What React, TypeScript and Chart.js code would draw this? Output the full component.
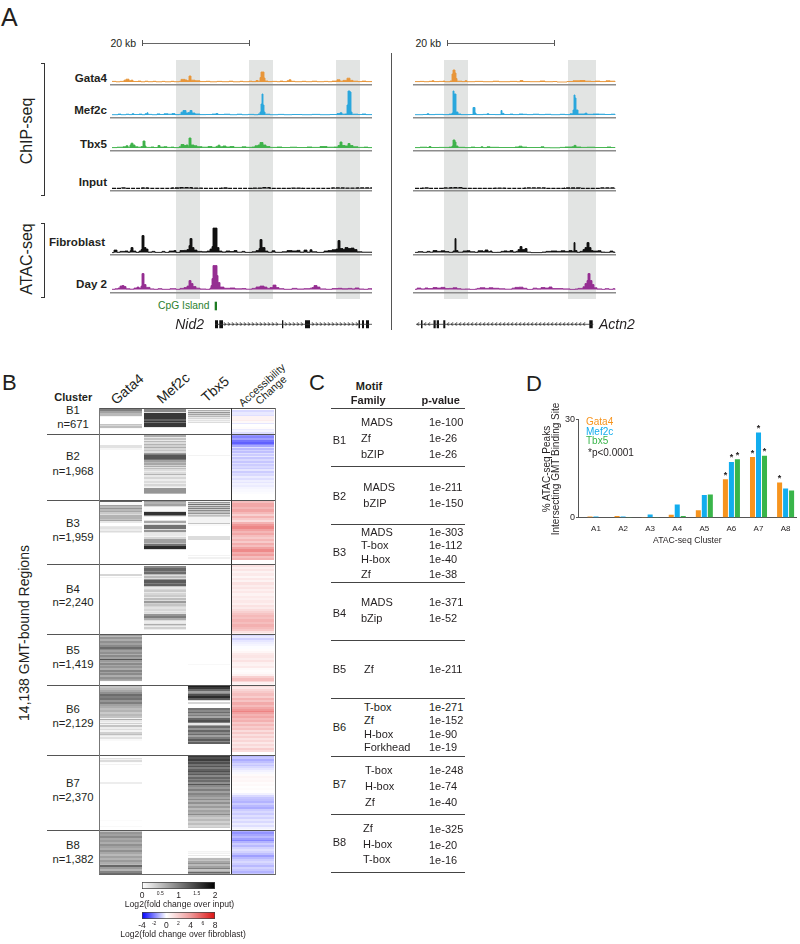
import React, { useEffect, useRef } from "react";
import Chart from "chart.js/auto";

// ---------- Panel D data ----------
const atacClusters = ["A1", "A2", "A3", "A4", "A5", "A6", "A7", "A8"];
const pctGata4 = [0.4, 0.5, 0.25, 0.9, 2.3, 11.7, 18.5, 10.7];
const pctMef2c = [0.4, 0.4, 1.0, 4.0, 6.9, 17, 26, 8.9];
const pctTbx5 = [0.1, 0.2, 0.2, 0.5, 7.1, 17.8, 18.9, 8.3];
const sigGata4 = [0, 0, 0, 0, 0, 1, 1, 1];
const sigMef2c = [0, 0, 0, 0, 0, 1, 1, 0];
const sigTbx5 = [0, 0, 0, 0, 0, 1, 1, 0];

// ---------- Panel C data ----------
const motifClusters = ["B1", "B2", "B3", "B4", "B5", "B6", "B7", "B8"];
const motifFamilies = [
  ["MADS", "Zf", "bZIP"], ["MADS", "bZIP"], ["MADS", "T-box", "H-box", "Zf"], ["MADS", "bZip"],
  ["Zf"], ["T-box", "Zf", "H-box", "Forkhead"], ["T-box", "H-box", "Zf"], ["Zf", "H-box", "T-box"],
];
const motifPvalues = [
  ["1e-100", "1e-26", "1e-26"], ["1e-211", "1e-150"], ["1e-303", "1e-112", "1e-40", "1e-38"], ["1e-371", "1e-52"],
  ["1e-211"], ["1e-271", "1e-152", "1e-90", "1e-19"], ["1e-248", "1e-74", "1e-40"], ["1e-325", "1e-20", "1e-16"],
];

// ---------- Panel B data: [value, rows] runs, one list per cluster ----------
const clusterNames = ["B1", "B2", "B3", "B4", "B5", "B6", "B7", "B8"];
const clusterCounts = ["n=671", "n=1,968", "n=1,959", "n=2,240", "n=1,419", "n=2,129", "n=2,370", "n=1,382"];
const clusterRows = [26, 66, 64, 70, 51, 70, 75, 44];
const heatColumns = ["Gata4", "Mef2c", "Tbx5", "Accessibility Change"];

const gata4Runs = [
  [[.05,1],[1.1,2],[.8,2],[.6,3],[.1,1],[0,7],[.5,1],[.35,1],[.55,2],[.05,1]],
  [[0,11],[.25,3],[.08,2]],
  [[0,1],[1.35,1],[.05,3],[.8,1],[.6,2],[.9,1],[.6,2],[.75,1],[.45,2],[.3,1],[.65,4],[.5,1],[.75,1],[.2,2],[0,3],[.2,1],[.25,2],[.15,2],[.3,1],[.15,1]],
  [[0,10],[.35,2],[0,1],[.1,1]],
  [[.8,2],[.6,1],[.9,2],[.7,2],[.95,2],[.8,2],[1.0,2],[1.25,2],[1.0,1],[.8,2],[.95,2],[.7,1],[1.0,2],[.8,2],[1.45,1],[.85,2],[.7,1],[1.0,2],[.75,1],[.9,2],[.7,2],[1.05,2],[.8,1],[1.0,2],[.7,2],[.95,2],[.8,1],[.7,1],[.05,1]],
  [[0,1],[.5,2],[.6,2],[.75,2],[.95,2],[1.25,2],[1.1,2],[1.2,2],[.9,2],[1.1,2],[.8,2],[.7,2],[.55,2],[.65,2],[.45,2],[.6,2],[.5,2],[.1,1],[.7,1],[.2,2],[.1,1],[.4,1],[.1,1],[.5,2],[.15,2],[.3,1],[.1,2],[.4,2],[.55,1],[.2,1],[.1,1],[.25,2],[.05,2]],
  [[0,3],[.25,1],[.1,1],[.3,2],[.03,1],[0,1],[.1,1],[0,17],[.15,2],[0,36],[.03,1],[0,5],[.05,1]],
  [[.5,2],[.9,2],[.8,2],[1.0,2],[.75,2],[.85,2],[.7,2],[.95,2],[.8,2],[.7,2],[.95,2],[.75,2],[.6,2],[.8,2],[.65,2],[.85,2],[.7,2],[.6,1],[1.3,2],[.85,2],[.65,2],[1.05,2],[1.25,3]],
];
const mef2cRuns = [
  [[0,1],[1.0,3],[.3,1],[1.7,6],[1.35,2],[1.7,1],[1.2,1],[1.7,4],[.2,1]],
  [[0,1],[.7,2],[.2,1],[.5,2],[.2,1],[.6,1],[.3,2],[.65,1],[.4,2],[.7,1],[.35,2],[.5,1],[.3,2],[.85,1],[1.1,1],[1.45,4],[1.2,1],[.8,2],[.6,1],[.75,2],[.4,1],[.7,1],[.25,1],[.55,1],[.3,2],[.15,1],[.3,2],[.65,1],[.2,2],[.35,2],[.15,2],[.3,2],[.15,1],[.35,2],[.2,1],[.1,1],[.9,5],[.6,1]],
  [[.9,2],[.65,2],[.8,2],[.3,1],[.05,4],[.3,1],[1.75,3],[1.0,1],[.2,1],[0,3],[.25,1],[.75,2],[.15,1],[.3,1],[1.2,4],[.3,1],[.9,2],[.25,1],[.2,3],[.1,1],[.35,2],[.8,4],[.55,1],[1.2,2],[1.8,3],[.3,1]],
  [[0,2],[1.0,2],[1.3,3],[1.0,1],[1.25,2],[.6,1],[.3,1],[.6,2],[.3,1],[.9,1],[1.4,3],[1.1,1],[1.35,2],[.5,1],[.2,2],[.35,1],[.45,2],[.2,1],[.35,2],[.45,2],[.2,1],[.55,2],[.3,1],[.85,2],[.4,1],[.5,2],[.35,1],[.25,2],[.35,2],[.2,1],[.3,1],[.25,1],[.9,2],[1.1,2],[.7,2],[.3,1],[.15,2],[.2,1],[.7,1],[.35,1],[.15,1],[.4,2],[.15,1]],
  [],
  [],
  [],
  [],
];
const tbx5Runs = [
  [[0,2],[.7,1],[.3,1],[.9,1],[.4,1],[.8,1],[.35,1],[.6,1],[.2,1],[.35,1],[.1,1],[.25,1],[.1,1],[.3,1]],
  [[0,21],[.1,1]],
  [[.1,2],[.9,1],[.4,1],[1.2,1],[.35,1],[1.0,1],[.5,1],[1.1,1],[.4,1],[1,1],[.55,2],[.9,1],[.3,1],[.55,1],[.4,1],[.1,6],[.5,1],[.05,2],[0,10],[.3,4],[0,15],[.1,1],[0,1],[.12,2]],
  [],
  [[0,30],[.06,1]],
  [[1.9,2],[1.7,2],[1.3,2],[.8,2],[1.0,1],[1.5,2],[1.8,2],[1.4,2],[.3,1],[0,1],[.35,2],[0,4],[1.2,2],[1.0,2],[1.25,1],[.9,2],[1.1,1],[.75,2],[1.3,2],[1.5,2],[1.1,1],[.2,2],[.8,1],[1.25,2],[.9,2],[1.3,2],[1.0,2],[1.25,1],[.8,2],[1.1,2],[1.4,2],[1,1],[1.35,2]],
  [[1.7,2],[1.5,2],[1.65,2],[1.3,1],[1.5,2],[1.2,2],[1.45,1],[1.1,2],[1.35,2],[1.5,1],[1.2,2],[1.4,1],[1.0,2],[1.3,2],[1.05,1],[1.25,2],[.95,2],[1.45,1],[1.0,2],[.85,2],[1.1,2],[.8,2],[1.05,2],[.9,2],[.75,2],[1.0,1],[.7,2],[.95,2],[.65,2],[.85,2],[.6,2],[.8,2],[.7,2],[1,1],[.6,2],[.45,2],[.6,2],[.4,2],[.55,2],[.35,2],[.45,1]],
  [[0,21],[.1,1],[.05,1],[.12,1],[0,1],[.2,1],[0,1],[.05,1],[.6,2],[.5,1],[.75,2],[.95,1],[.6,2],[.8,2],[1.1,1],[.5,2],[.7,1],[1.3,1],[.9,1]],
];
const accessRuns = [
  [[0,2],[-.6,2],[-.35,3],[-.5,1],[.4,4],[.6,1],[.2,2],[-.4,1],[0,3],[.1,2],[-.3,1],[-.15,2],[-.5,2]],
  [[-1.6,2],[-1.9,2],[-1.5,2],[-2.2,2],[-2.5,2],[-1.9,1],[-1.4,2],[-.5,1],[-1.1,2],[-.7,1],[-1.0,2],[-.5,1],[-.8,2],[-.4,1],[-.9,2],[-.6,2],[-.9,2],[-.5,1],[-.8,2],[-.6,2],[-.8,1],[-.4,2],[-.8,2],[-.5,1],[-.6,2],[-.3,2],[-.5,2],[-.25,2],[-.4,1],[-.2,2],[-.3,2],[-.15,2],[-.1,3],[-.05,2]],
  [[2.2,3],[3,4],[2.5,2],[3.1,3],[2.4,2],[1.6,2],[2.6,2],[1.8,2],[1.2,2],[2.6,2],[3.5,2],[4.1,3],[3.2,2],[2.5,2],[3,2],[2.2,2],[1.8,2],[2.5,2],[1.8,2],[2.8,2],[2.2,2],[3.2,2],[4,3],[2.8,2],[3.3,2],[2.2,2],[2.7,2]],
  [[1,3],[.5,2],[.9,2],[.4,2],[.7,3],[.3,2],[.8,2],[.4,2],[1,3],[.6,2],[.9,2],[.5,2],[.8,2],[.4,3],[.7,2],[.5,2],[.8,3],[.5,2],[1,2],[.7,2],[1.2,2],[1.6,2],[2,2],[2.4,2],[2.1,2],[2.6,3],[2.2,2],[2.7,3],[2.3,2],[1.9,2],[1,2],[.5,2]],
  [[-.6,2],[-.35,2],[-.7,2],[-.4,2],[-.25,2],[-.15,2],[-.05,3],[.1,2],[.3,2],[.7,2],[.9,3],[.6,2],[1,2],[.5,2],[.4,2],[.7,2],[.2,2],[.1,2],[.2,2],[.5,2],[1.6,2],[2.2,3],[1.4,1],[.5,2],[.3,1]],
  [[1.2,2],[.8,2],[1.4,2],[1.8,2],[2.2,3],[1.7,2],[2.6,2],[2,2],[2.9,3],[2.3,2],[3,2],[3.5,2],[4.2,1],[3.2,2],[2.6,2],[3,2],[2.3,2],[2.7,2],[1.8,2],[2.4,2],[1.7,2],[2.1,2],[1.2,2],[1.8,2],[1.1,2],[1.6,2],[1,2],[1.4,2],[.8,2],[1.3,2],[.9,2],[1.7,2],[1.2,2]],
  [[-1.1,2],[-.9,2],[-1.3,2],[-1,2],[-.7,2],[-.9,1],[-.6,2],[-.4,2],[-.2,2],[-.1,2],[.15,2],[.35,2],[.2,2],[.3,2],[.1,2],[.2,2],[.05,2],[.15,2],[.05,3],[-.2,2],[-.6,2],[-.9,2],[-1,2],[-1.2,2],[-.8,2],[-1.1,2],[-1.3,2],[-.8,2],[-.6,2],[-.8,2],[-.5,2],[-.7,2],[-.4,2],[-.6,2],[-.3,2],[-.5,2],[-.2,2],[-.1,2]],
  [[-1.3,2],[-1.7,2],[-1.4,2],[-1.1,2],[-1.5,2],[-1.9,1],[-1.2,2],[-.8,2],[-1.1,2],[-.7,2],[-.5,2],[-.7,2],[-1,2],[-1.5,2],[-1.1,2],[-.8,2],[-.6,2],[-.8,2],[-1.1,2],[-.7,2],[-.9,2],[-1.2,2],[-.9,1]],
];

// ---------- Panel A data: [genomic bin, signal] steps ----------
const nid2Gata4 = [[0,.6],[4,.2],[8,.6],[12,1.8],[14,2.8],[17,1.2],[19,1.8],[21,.5],[26,.9],[29,.2],[33,.8],[36,.3],[41,.7],[44,.2],[50,.6],[53,.2],[59,.7],[62,.3],[67,.6],[69,2.6],[73,2],[75,1.3],[77,6],[79,1.8],[83,1.2],[88,.4],[94,.7],[98,.2],[105,.6],[110,.3],[117,.8],[121,.2],[128,.7],[131,.3],[137,.8],[140,.4],[144,1.5],[146,.8],[148,4.5],[149,10],[152,4],[153,1],[156,.4],[160,.6],[165,.3],[168,.9],[171,.4],[175,1.2],[177,2.2],[179,.7],[183,.3],[190,.7],[194,.3],[200,.8],[205,.3],[212,.6],[216,.3],[220,.9],[225,2.2],[228,.8],[231,1.6],[235,3.8],[238,1.6],[241,.8],[246,.4],[250,.9],[254,.4],[260,0]];
const nid2Mef2c = [[0,.3],[6,.9],[9,.3],[14,.8],[17,.4],[20,1.2],[22,.5],[27,.9],[30,.3],[33,1.2],[35,2.2],[36,.6],[40,.3],[45,1.1],[48,.5],[52,1.2],[56,.8],[60,1.4],[63,.4],[67,.6],[69,2.8],[71,4.5],[74,2],[76,2.4],[78,4.5],[80,2],[83,1],[88,.4],[94,.5],[100,.9],[104,1.4],[106,.5],[112,.8],[118,.3],[125,.8],[130,.3],[136,.6],[142,.3],[146,1],[148,3],[149,11],[150,21],[151,10],[152,3],[153,.8],[158,.3],[166,.6],[172,.3],[180,.5],[190,.3],[200,.6],[208,.3],[218,.5],[225,1.4],[228,2.2],[230,.8],[233,1],[235,10],[236,24],[238,23],[239,3],[240,.8],[246,.5],[250,1],[254,.4],[260,0]];
const nid2Tbx5 = [[0,.4],[5,.8],[11,1.2],[14,2.2],[16,.8],[18,3],[19,4.8],[21,3],[23,1.2],[26,.8],[29,1.4],[31,7],[33,2],[34,.6],[39,1],[42,.5],[46,2.5],[48,.9],[52,1.3],[55,.6],[59,.9],[62,.4],[67,1.2],[69,3.5],[72,2.5],[74,3],[76,1.8],[77,10],[79,3],[82,2.2],[85,1.3],[90,.8],[96,1.5],[100,.7],[104,1.6],[106,2.8],[108,1.2],[111,2],[114,1],[118,1.5],[122,.6],[130,1.2],[134,.7],[140,1],[143,2.2],[146,3],[148,5.5],[151,3],[154,1.5],[158,.6],[165,1],[170,.5],[178,.8],[185,.5],[195,1],[200,.6],[208,1.5],[215,.8],[222,1],[226,2.5],[228,6],[230,2.5],[233,2],[236,4.5],[238,2.5],[241,1.2],[246,.6],[252,.9],[256,.4],[260,0]];
const nid2Input = [[0,.3],[10,.7],[14,.2],[30,.6],[36,.2],[60,.6],[68,.9],[80,.5],[90,.2],[110,.6],[116,.2],[140,.5],[150,.9],[158,.3],[180,.5],[190,.2],[220,.7],[232,.4],[245,.7],[260,0]];
const nid2Fibroblast = [[0,0],[2,2.5],[5,.3],[8,1.2],[13,1.6],[16,.3],[18,1.8],[19,5],[21,1.5],[24,.2],[27,1.5],[29,3],[30,17],[32,5],[34,3.5],[36,.5],[40,1.2],[43,.2],[50,1.2],[53,.2],[57,1.5],[62,2],[64,.2],[68,2],[72,2.2],[75,3],[77,7],[78,14],[80,5],[82,2.5],[85,1.2],[90,.8],[95,1.5],[98,3.5],[100,6],[101,24.5],[105,5],[107,1.5],[110,.6],[114,1.6],[118,1],[122,2],[125,.4],[130,1.2],[133,.2],[140,.8],[144,2],[147,4],[148,13],[150,5],[153,1.5],[156,.3],[160,1.8],[163,.3],[170,.8],[175,2],[180,1.6],[185,2.2],[188,.5],[192,2.5],[195,.5],[198,2.8],[200,.8],[205,.2],[212,1.5],[216,2],[220,2.8],[224,3.5],[226,12],[228,4],[231,3],[233,5],[236,4],[239,4.5],[242,3],[245,.8],[250,.4],[260,0]];
const nid2Day2 = [[0,.3],[3,.8],[6,1.5],[8,3.5],[10,4],[12,3],[14,.8],[18,.4],[22,1.5],[25,2.5],[27,1.5],[29,3.5],[30,16],[32,5],[34,2.2],[38,.7],[42,.3],[46,.9],[50,.3],[58,.9],[64,.3],[68,1.2],[72,2],[75,3.5],[77,9],[79,6],[81,3],[84,1.4],[88,.6],[94,.3],[98,1.5],[99,4],[100,11],[101,24],[105,14],[106,7],[108,2.5],[112,1.3],[118,1.6],[123,.8],[130,1],[134,.4],[140,1.2],[144,2.6],[148,3.5],[152,2.5],[155,1.2],[158,2],[161,4.5],[164,2],[167,.9],[172,.3],[180,1.2],[185,.6],[192,.9],[198,1.4],[200,2],[202,4],[205,2.5],[208,.7],[214,.3],[220,1],[226,1.3],[230,.8],[236,1.2],[240,.7],[243,1.6],[247,.6],[252,.3],[256,.9],[260,0]];
const actn2Gata4 = [[0,.4],[5,.6],[9,.3],[14,.7],[17,1.2],[19,.4],[24,.6],[28,.9],[30,.3],[35,1],[37,8],[38,12],[40,9],[41,3.5],[42,.8],[47,.4],[50,1.2],[52,.3],[60,.6],[68,.3],[78,.8],[84,.3],[95,.6],[102,.3],[105,1.4],[108,.4],[115,.3],[125,1],[130,.3],[138,.5],[142,0],[152,.5],[158,1.2],[165,1.5],[170,.8],[176,.5],[180,.9],[185,.4],[191,1.2],[195,.8],[200,0]];
const actn2Mef2c = [[0,.3],[8,.5],[12,1.2],[14,.4],[20,.6],[28,.4],[34,.9],[37,2],[38,24],[39,21],[41,3],[43,1],[46,.4],[55,.5],[58,7.5],[60,2],[61,.4],[68,.6],[72,1.2],[74,.5],[80,.4],[86,4.5],[87,1.6],[89,.5],[95,.9],[98,.4],[104,1],[108,.7],[112,.4],[118,.8],[124,.4],[130,.7],[136,.3],[145,.7],[150,.4],[155,1.2],[158,5],[159,20],[160,17],[161,5],[163,1],[167,1],[170,1.8],[172,.7],[178,1],[184,.8],[190,.5],[196,.8],[200,0]];
const actn2Tbx5 = [[0,.4],[5,.8],[12,.5],[14,1.4],[16,.5],[24,.6],[34,.9],[37,2],[38,8],[40,6],[41,2],[43,.7],[50,.4],[56,.9],[60,.5],[66,1.2],[68,.4],[72,1.2],[75,.7],[84,.5],[92,.5],[100,1],[104,1.8],[107,.9],[112,.5],[118,.5],[126,1.2],[129,.3],[135,.2],[145,.6],[150,1],[157,1.2],[159,2.6],[161,1],[166,.6],[172,.8],[180,.5],[192,1],[196,.5],[200,0]];
const actn2Input = [[0,.3],[8,.7],[14,.2],[28,.7],[36,.9],[48,.3],[80,.5],[90,.2],[110,.7],[130,.3],[150,.6],[165,.3],[185,.7],[200,0]];
const actn2Fibroblast = [[0,.2],[3,.9],[8,.3],[12,1.2],[15,.4],[18,2],[22,1.2],[26,1.8],[30,1],[34,.3],[38,1.6],[40,14],[41,2],[43,.4],[48,1.6],[52,1.9],[55,.8],[60,.3],[63,1.8],[68,1],[70,2.6],[73,.9],[75,1.6],[77,.2],[82,.3],[86,1.2],[89,1.7],[92,1.2],[95,2],[98,.6],[101,1.2],[103,3],[105,6],[107,3],[110,4],[112,.4],[116,0],[127,.5],[131,1.2],[136,1.6],[142,1.2],[146,1.8],[150,1.2],[154,2],[157,1.3],[159,10],[160,2],[162,.3],[165,1.2],[168,3],[170,5],[172,10],[174,5],[176,2],[178,1.5],[183,1.9],[186,.5],[190,.3],[195,1.5],[198,.5],[200,0]];
const actn2Day2 = [[0,.3],[2,1.5],[6,.7],[10,1.6],[13,1],[18,2],[22,1.5],[26,2.2],[30,1],[34,1.2],[38,1.8],[42,.9],[46,.4],[50,.6],[55,.2],[60,.5],[62,1.2],[65,1.8],[70,1.2],[74,1.8],[78,1.3],[84,.8],[90,.4],[97,1.4],[100,2.2],[104,2.4],[108,1.3],[112,.2],[118,1.4],[122,.8],[126,2],[130,1.5],[134,2.6],[137,1],[142,1],[148,.7],[155,.2],[160,.6],[163,1.2],[168,2.8],[170,6],[172,9],[173,16],[175,9],[177,5],[179,1.8],[182,.7],[187,.2],[190,.9],[194,.3],[198,.9],[200,0]];

const nid2Span = [103, 260];
const nid2Exons = [[103,106],[107.3,111],[170,171.3],[193,198],[246.5,248],[250,252],[254,257]];
const nid2Chevrons = [113,117,121,125,129,133,137,141,145,149,153,157,161,165,174,178,182,186,190,201,205,209,213,217,221,225,229,233,237,241,245];
const cpgIsland = [102.7, 105];
const actn2Span = [1, 178.3];
const actn2Exons = [[6,7.5],[18.5,20.7],[21.7,24],[28.3,30.3],[174.3,177.7]];
const actn2Chevrons = [3,10,14,33,37,41,45,49,53,57,61,65,69,73,77,81,85,89,93,97,101,105,109,113,117,121,125,129,133,137,141,145,149,153,157,161,165,169];

// ---------- Colours and layout ----------
const FONT = '"Liberation Sans", Arial, sans-serif';
const TEXT = "#231f20";
const ORANGE = "#E8963A", BLUE = "#2AA7DC", GREEN = "#3FB24B", PURPLE = "#952E92", BLACK = "#111111";
const BAR_ORANGE = "#F7941E", BAR_BLUE = "#12ADEE", BAR_GREEN = "#39B54A";

const baseOptions: any = {
  responsive: false,
  animation: false,
  devicePixelRatio: 1,
  events: [],
  layout: { autoPadding: false },
  plugins: { legend: { display: false }, tooltip: { enabled: false }, title: { display: false } },
};

function noPad(s: any) {
  s.paddingLeft = 0; s.paddingRight = 0; s.paddingTop = 0; s.paddingBottom = 0;
}

function ChartBox({ left, top, w, h, make }: { left: number; top: number; w: number; h: number; make: () => any }) {
  const ref = useRef<HTMLCanvasElement>(null);
  useEffect(() => {
    const chart = new Chart(ref.current as HTMLCanvasElement, make());
    return () => chart.destroy();
  }, []);
  return <canvas ref={ref} width={w} height={h} style={{ position: "absolute", left, top, width: w, height: h, display: "block" }} />;
}

function T({ x, y, a = "l", size = 11, bold, italic, color = TEXT, rot, children }: any) {
  const tx = a === "l" ? "0" : a === "c" ? "-50%" : "-100%";
  return (
    <span style={{
      position: "absolute", left: x, top: y, whiteSpace: "nowrap", lineHeight: 1, fontFamily: FONT, fontSize: size,
      fontWeight: bold ? "bold" : "normal", fontStyle: italic ? "italic" : "normal", color,
      transform: `translate(${tx}, -50%)${rot ? ` rotate(${rot}deg)` : ""}`,
    }}>{children}</span>
  );
}

function R({ x, y, w, h, c }: any) {
  return <div style={{ position: "absolute", left: x, top: y, width: w, height: h, background: c }} />;
}

function trackConfig(data: number[][], color: string, gap: number, xMax: number, dashed: boolean) {
  return {
    type: "line",
    data: { datasets: [{
      data: data.map(([x, y]) => ({ x, y })),
      borderColor: color, borderWidth: dashed ? 1.3 : 0.9, borderDash: dashed ? [4, 1] : [], backgroundColor: color, fill: { value: 0 }, stepped: true, pointRadius: 0,
    }] },
    options: { ...baseOptions, layout: { autoPadding: false, padding: { bottom: 2 } }, scales: {
      x: { type: "linear", min: -2, max: xMax, afterFit: (s: any) => { s.height = 0; noPad(s); },
        grid: { display: false, drawTicks: false }, ticks: { display: false }, border: { color: "#8c8c8c", width: 1.4 } },
      y: { display: false, min: -gap, max: 30 - gap },
    } },
  };
}

function chevronImage() {
  const c = document.createElement("canvas");
  c.width = 4; c.height = 4;
  const g = c.getContext("2d") as CanvasRenderingContext2D;
  g.strokeStyle = "#333"; g.lineWidth = 0.9;
  g.beginPath(); g.moveTo(0.8, 0.5); g.lineTo(3, 2); g.lineTo(0.8, 3.5); g.stroke();
  return c;
}

function geneConfig(span: number[], exons: number[][], chevrons: number[], flip: boolean, xMax: number, cpg?: number[]) {
  const exonPts: any[] = [];
  exons.forEach(([a, b]) => { exonPts.push({ x: a, y: 0 }, { x: b, y: 0 }, { x: b, y: null }); });
  const datasets: any[] = [
    { data: span.map((x) => ({ x, y: 0 })), borderColor: "#333", borderWidth: 0.8, pointRadius: 0 },
    { data: chevrons.map((x) => ({ x, y: 0 })), showLine: false, pointStyle: chevronImage(), pointRadius: 2, pointRotation: flip ? 180 : 0 },
    { data: exonPts, borderColor: "#111", borderWidth: 8, pointRadius: 0, spanGaps: false },
  ];
  if (cpg) datasets.push({ data: cpg.map((x) => ({ x, y: 1 })), borderColor: "#1E7B22", borderWidth: 8.6, pointRadius: 0 });
  return {
    type: "line",
    data: { datasets },
    options: { ...baseOptions, scales: {
      x: { display: false, type: "linear", min: -2, max: xMax },
      y: { display: false, min: -0.366, max: 1.492 },
    } },
  };
}

function heatColor(col: number, v: number) {
  if (col < 3) {
    const g = Math.round(255 * (1 - 0.92 * Math.min(v, 2) / 2));
    return `rgb(${g},${g},${g})`;
  }
  if (v < 0) {
    const t = Math.min(-v / 4, 1);
    const c = Math.round(255 * (1 - t));
    return `rgb(${c},${c},255)`;
  }
  const t = Math.min(v / 8, 1);
  return `rgb(${Math.round(255 - 35 * t)},${Math.round(255 - 235 * t)},${Math.round(255 - 235 * t)})`;
}

function heatConfig() {
  const pts: any[] = [];
  const colors: string[] = [];
  [gata4Runs, mef2cRuns, tbx5Runs, accessRuns].forEach((runs, col) => {
    let clusterStart = 0;
    runs.forEach((cluster, ci) => {
      const end = clusterStart + clusterRows[ci];
      let s = clusterStart;
      cluster.forEach(([v, n]) => {
        const e = Math.min(s + n, end);
        if (v !== 0 && e > s) {
          pts.push({ x: heatColumns[col], y: [s, e] });
          colors.push(heatColor(col, v));
        }
        s = e;
      });
      clusterStart = end;
    });
  });
  return {
    type: "bar",
    data: { labels: heatColumns, datasets: [{ data: pts, backgroundColor: colors, borderWidth: 0, categoryPercentage: 0.955, barPercentage: 1, borderSkipped: false }] },
    options: { ...baseOptions, scales: {
      x: { display: false, type: "category" },
      y: { display: false, reverse: true, min: 0, max: clusterRows.reduce((a, b) => a + b, 0) },
    } },
  };
}

const starPlugin = {
  id: "stars",
  afterDatasetsDraw(chart: any) {
    const g = chart.ctx;
    g.save();
    g.fillStyle = TEXT; g.font = `bold 9px ${FONT}`; g.textAlign = "center"; g.textBaseline = "middle";
    chart.data.datasets.forEach((ds: any, i: number) => {
      chart.getDatasetMeta(i).data.forEach((bar: any, j: number) => {
        if (ds.sig[j]) g.fillText("*", bar.x, bar.y - 4);
      });
    });
    g.restore();
  },
};

function barConfig() {
  const series = [
    { label: "Gata4", values: pctGata4, sig: sigGata4, color: BAR_ORANGE },
    { label: "Mef2c", values: pctMef2c, sig: sigMef2c, color: BAR_BLUE },
    { label: "Tbx5", values: pctTbx5, sig: sigTbx5, color: BAR_GREEN },
  ];
  return {
    type: "bar",
    data: { datasets: series.map((s) => ({
      label: s.label, sig: s.sig, backgroundColor: s.color, borderWidth: 0, categoryPercentage: 0.664, barPercentage: 0.84,
      data: s.values.map((y, x) => ({ x, y })),
    })) },
    plugins: [starPlugin],
    options: { ...baseOptions, layout: { autoPadding: false, padding: { top: 14.3, right: 3.3 } }, scales: {
      x: {
        type: "linear", min: -0.664, max: 7.41, offset: false, afterFit: (s: any) => { s.height = 32.3; noPad(s); },
        grid: { display: false, drawTicks: false }, border: { color: "#555", width: 1 },
        ticks: { stepSize: 1, includeBounds: false, autoSkip: false, maxRotation: 0, padding: 6, color: TEXT, font: { family: FONT, size: 8 }, callback: (v: number) => atacClusters[v] ?? "" },
        title: { display: true, text: "ATAC-seq Cluster", color: TEXT, font: { family: FONT, size: 8.7 }, padding: { bottom: 4.5, top: 0 } },
      },
      y: {
        min: 0, max: 30, afterFit: (s: any) => { s.width = 48; noPad(s); },
        grid: { drawOnChartArea: false, drawTicks: true, tickLength: 2, color: "#555" }, border: { color: "#555", width: 1 },
        ticks: { stepSize: 30, padding: 1, color: TEXT, font: { family: FONT, size: 9 } },
      },
    } },
  };
}

function rampConfig(min: number, max: number, stops: string[], ticks: number[], major: number[]) {
  return {
    type: "bar",
    data: { labels: [""], datasets: [{
      data: [[min, max]], borderColor: "#444", borderWidth: 1, borderSkipped: false, categoryPercentage: 1, barPercentage: 1,
      backgroundColor: (c: any) => {
        const a = c.chart.chartArea;
        if (!a) return "#888";
        const g = c.chart.ctx.createLinearGradient(a.left, 0, a.right, 0);
        stops.forEach((s, i) => g.addColorStop(i / (stops.length - 1), s));
        return g;
      },
    }] },
    options: { ...baseOptions, indexAxis: "y", layout: { autoPadding: false, padding: { left: 12, right: 15, top: 4 } }, scales: {
      y: { display: false },
      x: {
        type: "linear", min, max, afterFit: (s: any) => { s.height = 12; noPad(s); },
        afterBuildTicks: (s: any) => { s.ticks = ticks.map((value) => ({ value })); },
        grid: { display: false, drawTicks: false }, border: { display: false },
        ticks: {
          autoSkip: false, maxRotation: 0, padding: 2, color: TEXT,
          font: (c: any) => ({ family: FONT, size: major.includes(c.tick?.value) ? 8.5 : 5 }),
          callback: (v: number) => String(v),
        },
      },
    } },
  };
}

// layout tables
const shades = [[176, 24], [249, 24], [336, 24], [444, 24], [568, 28]];
const leftTrackList: any[] = [
  ["Gata4", nid2Gata4, actn2Gata4, ORANGE, 85.4, 3, 77.7],
  ["Mef2c", nid2Mef2c, actn2Mef2c, BLUE, 118.4, 3, 110.3],
  ["Tbx5", nid2Tbx5, actn2Tbx5, GREEN, 150.8, 3, 144],
  ["Input", nid2Input, actn2Input, BLACK, 190.8, 2.4, 182],
  ["Fibroblast", nid2Fibroblast, actn2Fibroblast, BLACK, 254.6, 2.4, 242],
  ["Day 2", nid2Day2, actn2Day2, PURPLE, 293.4, 3.4, 284],
];
const clusterLabelY = [[411, 425], [457.3, 471.7], [524.3, 538.3], [590, 603.3], [651, 665], [710.3, 724.3], [784, 798], [845.7, 859.7]];
const tableLines = [408.3, 466.3, 524.7, 582.3, 640.7, 698.7, 756.7, 814.7, 872.7];
const tableLabelY = [439.7, 495.7, 552, 613, 668.7, 726.7, 784.3, 842.3];
const familyX = [361, 363.3, 361, 361, 364, 364, 365, 363];
const familyY = [[422.3, 438, 453.7], [487.3, 503], [532, 545, 559.3, 574], [601.7, 617.7], [668.7], [707.3, 720.3, 734, 747.3], [770.3, 786, 801.7], [828.3, 844, 859.3]];
const pvalY = [[422.3, 438, 453.7], [487.3, 503], [532, 545, 559.3, 574], [601.7, 617.7], [668.7], [707.3, 720.3, 734, 747.3], [770.3, 786, 801.7], [829.3, 845, 860.3]];

function cumulative(i: number) {
  return clusterRows.slice(0, i).reduce((a, b) => a + b, 0);
}

export default function App() {
  return (
    <div style={{ position: "absolute", left: 0, top: 0, width: 800, height: 944, background: "#fff", overflow: "hidden" }}>
      {/* Panel A */}
      <T x={1} y={17} size={25}>A</T>
      {shades.map(([x, w], i) => <R key={i} x={x} y={60} w={w} h={239} c="#e2e4e3" />)}
      <T x={110.5} y={42.5} size={10.5}>20 kb</T>
      <R x={142} y={42.6} w={107.5} h={1} c="#666" />
      <R x={141.6} y={40} w={1} h={6} c="#555" />
      <R x={249} y={40} w={1} h={6} c="#555" />
      <T x={415.5} y={42.5} size={10.5}>20 kb</T>
      <R x={447} y={42.6} w={107.7} h={1} c="#666" />
      <R x={446.6} y={40} w={1} h={6} c="#555" />
      <R x={554.3} y={40} w={1} h={6} c="#555" />
      {leftTrackList.map(([name, l, r, color, gray, gap, labelY]) => (
        <React.Fragment key={name}>
          <ChartBox left={110} top={gray - 30} w={262} h={32} make={() => trackConfig(l, color, gap, 260, name === "Input")} />
          <ChartBox left={413} top={gray - 30} w={203} h={32} make={() => trackConfig(r, color, gap, 201, name === "Input")} />
          <T x={name === "Fibroblast" ? 105 : 107} y={labelY} a="r" size={11.6} bold>{name}</T>
        </React.Fragment>
      ))}
      <T x={26.7} y={131} a="c" size={16} rot={-90}>ChIP-seq</T>
      <T x={26.7} y={259.3} a="c" size={16} rot={-90}>ATAC-seq</T>
      <div style={{ position: "absolute", left: 40.5, top: 62.5, width: 3, height: 131, borderTop: "1px solid #333", borderRight: "1px solid #333", borderBottom: "1px solid #333" }} />
      <div style={{ position: "absolute", left: 40.5, top: 222.5, width: 3, height: 73, borderTop: "1px solid #333", borderRight: "1px solid #333", borderBottom: "1px solid #333" }} />
      <R x={391} y={53} w={1} h={277} c="#555" />
      <T x={158} y={306.3} size={10.3} color="#2C7F30">CpG Island</T>
      <ChartBox left={110} top={297} w={262} h={34} make={() => geneConfig(nid2Span, nid2Exons, nid2Chevrons, false, 260, cpgIsland)} />
      <ChartBox left={413} top={297} w={203} h={34} make={() => geneConfig(actn2Span, actn2Exons, actn2Chevrons, true, 201)} />
      <T x={204} y={324} a="r" size={14} italic>Nid2</T>
      <T x={599} y={324} size={14} italic>Actn2</T>

      {/* Panel B */}
      <T x={2} y={383} size={22}>B</T>
      <T x={73.3} y={396.7} a="c" size={11} bold>Cluster</T>
      <T x={126.7} y={389} a="c" size={14} rot={-41}>Gata4</T>
      <T x={172.7} y={388.3} a="c" size={14} rot={-41}>Mef2c</T>
      <T x={215} y={389} a="c" size={14} rot={-41}>Tbx5</T>
      <T x={262} y={385} a="c" size={10.7} rot={-42}>Accessibility</T>
      <T x={270.7} y={390} a="c" size={10.7} rot={-42}>Change</T>
      <T x={24} y={633} a="c" size={14} rot={-90}>14,138 GMT-bound Regions</T>
      {clusterNames.map((n, i) => (
        <React.Fragment key={n}>
          <T x={73} y={clusterLabelY[i][0]} a="c" size={11.3}>{n}</T>
          <T x={73} y={clusterLabelY[i][1]} a="c" size={11.3}>{clusterCounts[i]}</T>
        </React.Fragment>
      ))}
      <ChartBox left={99} top={408} w={176} h={466} make={heatConfig} />
      {clusterRows.slice(0, 7).map((_, i) => (
        <R key={i} x={47.3} y={408 + cumulative(i + 1) - 0.5} w={227.7} h={1} c="#555" />
      ))}
      <R x={98.5} y={407.5} w={177} h={1} c="#555" />
      <R x={98.5} y={873.5} w={177} h={1} c="#666" />
      <R x={98.5} y={408} w={1} h={466} c="#777" />
      <R x={230.6} y={408} w={1} h={466} c="#333" />
      <R x={274.5} y={408} w={1} h={466} c="#777" />
      <ChartBox left={130} top={878} w={100} h={23} make={() => rampConfig(0, 2, ["#ffffff", "#000000"], [0, 0.5, 1, 1.5, 2], [0, 1, 2])} />
      <T x={179.5} y={904} a="c" size={8.6}>Log2(fold change over input)</T>
      <ChartBox left={130} top={907.5} w={100} h={23} make={() => rampConfig(-4, 8, ["#0000ff", "#ffffff", "#ee9999", "#dd1111"], [-4, -2, 0, 2, 4, 6, 8], [-4, 0, 4, 8])} />
      <T x={183} y={934} a="c" size={8.6}>Log2(fold change over fibroblast)</T>

      {/* Panel C */}
      <T x={309} y={383} size={22}>C</T>
      <T x={369} y={386} a="c" size={11} bold>Motif</T>
      <T x={368.3} y={400} a="c" size={11} bold>Family</T>
      <T x={440.7} y={400} a="c" size={11} bold>p-value</T>
      {tableLines.map((y, i) => <R key={i} x={331} y={y - 0.5} w={134} h={1} c="#444" />)}
      {motifClusters.map((c, i) => (
        <React.Fragment key={c}>
          <T x={332.7} y={tableLabelY[i]} size={11}>{c}</T>
          {motifFamilies[i].map((f, j) => <T key={j} x={familyX[i]} y={familyY[i][j]} size={11}>{f}</T>)}
          {motifPvalues[i].map((p, j) => <T key={j} x={429} y={pvalY[i][j]} size={11}>{p}</T>)}
        </React.Fragment>
      ))}

      {/* Panel D */}
      <T x={526} y={383.5} size={22}>D</T>
      <ChartBox left={530} top={405} w={270} h={145} make={barConfig} />
      <T x={546.7} y={469} a="c" size={10} rot={-90}>% ATAC-seq Peaks</T>
      <T x={556.2} y={469} a="c" size={10} rot={-90}>Intersecting GMT Binding Site</T>
      <T x={586} y={422} size={10} color={BAR_ORANGE}>Gata4</T>
      <T x={586} y={431.5} size={10} color={BAR_BLUE}>Mef2c</T>
      <T x={586} y={441} size={10} color={BAR_GREEN}>Tbx5</T>
      <T x={588} y={453} size={10}>*p&lt;0.0001</T>
    </div>
  );
}
